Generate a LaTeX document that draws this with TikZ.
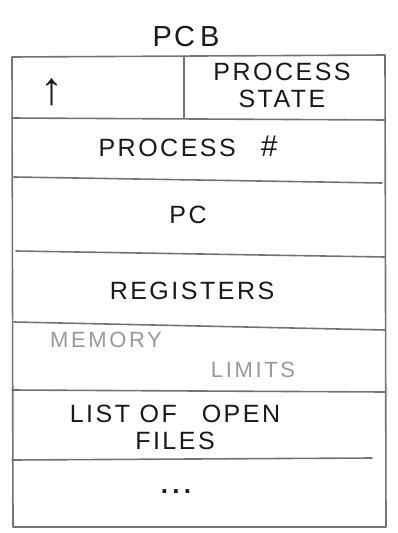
\documentclass[tikz,border=0pt]{standalone}
\usepackage{fontspec}
\setmainfont{Liberation Sans}
\tikzset{
  frame/.style={draw=black!55, line width=1.6pt, line cap=round, line join=round},
  rule/.style={draw=black!55, line width=1.6pt, line cap=round},
  lbl/.style={font=\fontsize{25}{25}\selectfont\addfontfeature{LetterSpace=10}, text=black!90, inner sep=0pt, align=center},
  faint/.style={font=\fontsize{22}{22}\selectfont\addfontfeature{LetterSpace=12}, text=black!40, inner sep=0pt}
}
\begin{document}
\begin{tikzpicture}[x=1pt,y=-1pt]
\useasboundingbox (0,0) rectangle (398,533);
% outer frame
\draw[frame] (12,57) -- (385,55) -- (386,527) -- (13,527) -- cycle;
% row dividers
\draw[rule] (184,56) -- (184,118);
\draw[rule] (12,118) -- (385,120);
\draw[rule] (14,177) -- (382,183);
\draw[rule] (16,251) -- (385,257);
\draw[rule] (14,322) -- (385,330);
\draw[rule] (12,390) -- (385,392);
\draw[rule] (12,460) -- (372,458);
% texts
\node[lbl, font=\fontsize{29}{29}\selectfont\addfontfeature{LetterSpace=8}] (title) at (186,37) {PC\,B};
\node[lbl, font=\fontsize{46}{46}\selectfont\bfseries] (ptr) at (52,92) {↑};
\node[lbl] (pstate) at (282,85) {PROCESS\\[2pt]STATE};
\node[lbl] (pnum) at (188,146) {PROCESS\quad{\fontsize{30}{30}\selectfont\#}};
\node[lbl] (pc) at (188,215) {PC};
\node[lbl] (regs) at (192,291) {REGISTERS};
\node[faint] (mem) at (106,340) {MEMORY};
\node[faint] (lim) at (253,370) {LIMITS};
\node[lbl] (files) at (175,427) {LIST OF\quad OPEN\\[2pt]FILES};
\node[lbl, font=\fontsize{26}{26}\selectfont\bfseries] (dots) at (176,492) {.\,.\,.};
\end{tikzpicture}
\end{document}
